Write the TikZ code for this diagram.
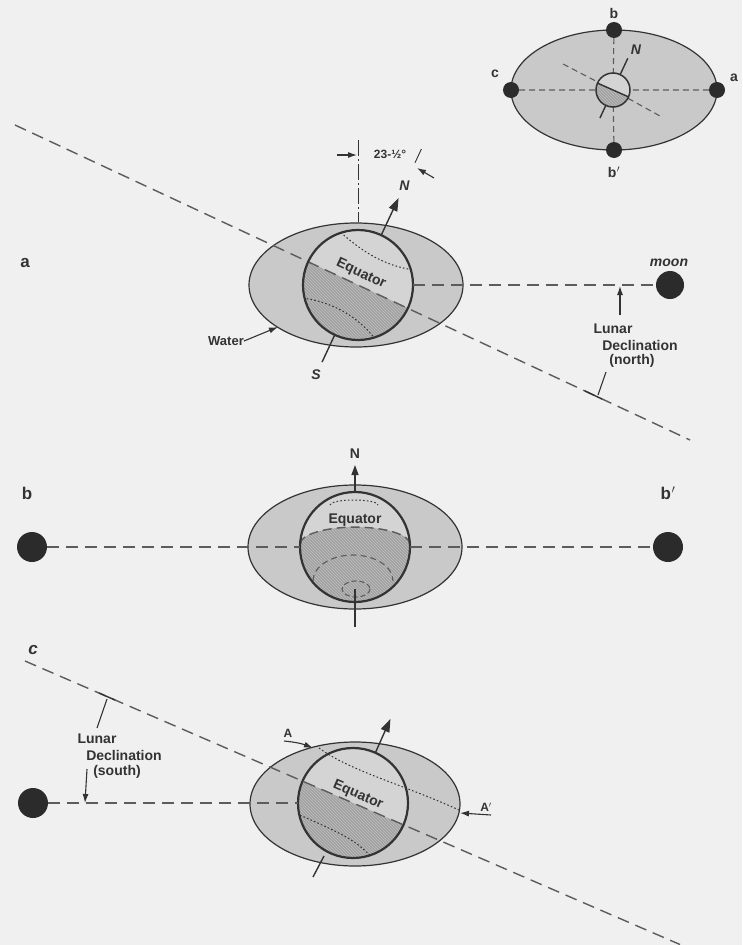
\documentclass[tikz,border=0pt]{standalone}
\usepackage{fontspec}
\setmainfont{Liberation Sans}
\usetikzlibrary{arrows.meta,patterns,calc}

\definecolor{bg}{gray}{0.94}
\definecolor{waterfill}{gray}{0.79}
\definecolor{landfill}{gray}{0.83}
\definecolor{southfill}{gray}{0.63}
\definecolor{outline}{gray}{0.2}
\definecolor{dashcol}{gray}{0.36}
\definecolor{moon}{gray}{0.17}

\newcommand\fsz[1]{\fontsize{#1}{#1}\selectfont}

\tikzset{
  lab/.style={font=\fsz{14}\bfseries, text=outline, inner sep=0pt},
  labit/.style={font=\fsz{14}\bfseries\itshape, text=outline, inner sep=0pt},
  tag/.style={font=\fsz{17}\bfseries, text=outline, inner sep=0pt},
  dsh/.style={draw=dashcol, line width=1.4pt, dash pattern=on 12pt off 7pt},
  water/.style={fill=waterfill, draw=outline, line width=1.2pt},
  globe/.style={circle, fill=landfill, minimum size=110pt, inner sep=0pt},
  rim/.style={draw=outline, line width=2.2pt},
  south/.style={fill=southfill, postaction={pattern=north west lines, pattern color=black!25}},
  dotline/.style={draw=outline, line width=1pt, dash pattern=on 1.6pt off 2.2pt},
  moonball/.style={circle, fill=moon, minimum size=28pt, inner sep=0pt},
  axis/.style={draw=outline, line width=1.4pt},
  bigtip/.style={-{Triangle[length=13pt,width=9pt]}},
  ptr/.style={draw=outline, line width=1.1pt, -{Latex[length=9pt,width=6pt]}},
}

\begin{document}
\begin{tikzpicture}[x=1pt,y=-1pt]
\fill[bg] (0,0) rectangle (742,945);
\useasboundingbox (0,0) rectangle (742,945);

%================ small overview: moon positions a, b, c, b'
\filldraw[water] (614,90) ellipse [x radius=103, y radius=60];
\node[globe, minimum size=34pt] (sE) at (613,90) {};
\node[moonball, minimum size=16pt] (dB)  at (614,30)  {};
\node[moonball, minimum size=16pt] (dBp) at (614,150) {};
\node[moonball, minimum size=16pt] (dA)  at (717,90)  {};
\node[moonball, minimum size=16pt] (dC)  at (511,90)  {};
\coordinate (sT1) at (563,64);
\coordinate (sT2) at (660,116);
\draw[dsh, line width=1.1pt, dash pattern=on 6pt off 4pt]
  (dB) -- (sE) (dBp) -- (sE) (dC) -- (sE) (dA) -- (sE) (sT1) -- (sE) (sE) -- (sT2);
\path[south] (sE.center) ++(24:17) arc[start angle=24, end angle=204, radius=17] -- cycle;
\draw[axis] (sE.center) ++(24:17) -- ++(204:34);
\draw[rim, line width=1.5pt] (sE.center) circle[radius=17];
\draw[axis] (sE.center) ++(-65:17) -- ++(-65:18);
\draw[axis] (sE.center) ++(115:17) -- ++(115:14);
\node[labit] (sN) at (636,50) {N};
\node[lab] (lb)  at (614,13)  {b};
\node[lab] (lbp) at (614,172) {b\kern0.5pt$'$};
\node[lab] (la)  at (734,78)  {a};
\node[lab] (lc)  at (495,74)  {c};

%================ a: moon at northern declination
\node[tag] (tagA) at (25,263) {a};
\filldraw[water] (356,285) ellipse [x radius=107, y radius=62];
\node[globe] (earthA) at (358,285) {};
\path[south] (earthA.center) ++(25:55) arc[start angle=25, end angle=205, radius=55] -- cycle;
\begin{scope}
  \clip (earthA.center) circle[radius=55];
  \draw[dotline] (338,230) .. controls (362,252) and (385,266) .. (414,270);
  \draw[dotline] (303,298) .. controls (330,302) and (356,314) .. (376,340);
\end{scope}
\coordinate (eqA1) at (15,125);
\coordinate (eqA2) at (690,440);
\draw[dsh] (eqA1) -- (eqA2);
\draw[rim] (earthA.center) circle[radius=55];
\node[lab, rotate=-25] (eqAtxt) at (361,274) {Equator};
% rotation axis
\path (earthA.center) ++(-65:55) coordinate (nA1) ++(-65:41) coordinate (nA2);
\draw[axis, bigtip] (nA1) -- (nA2);
\node[labit] (nA) at ($(earthA.center)+(-65:110)$) {N};
\path (earthA.center) ++(115:55) coordinate (sA1) ++(115:30) coordinate (sA2);
\draw[axis] (sA1) -- (sA2);
\node[labit] (sA) at ($(earthA.center)+(115:99)$) {S};
% 23-1/2 degree tilt dimension
\draw[outline, line width=0.9pt, dash pattern=on 16pt off 3pt on 2pt off 3pt] (358,140) -- (358,222);
\path (earthA.center) ++(-65:150) coordinate (tA1) ++(115:15) coordinate (tA2);
\draw[outline, line width=0.9pt] (tA1) -- (tA2);
\coordinate (dimL1) at (337,155);
\coordinate (dimL2) at (357,155);
\draw[ptr] (dimL1) -- (dimL2);
\coordinate (dimR1) at (434,178);
\coordinate (dimR2) at (417,168);
\draw[ptr] (dimR1) -- (dimR2);
\node[font=\fsz{12}\bfseries, text=outline, inner sep=0pt] (tiltA) at (390,154) {23-½°};
% water label
\node[font=\fsz{13}\bfseries, text=outline, inner sep=0pt] (waterA) at (226,341) {Water};
\coordinate (waterTip) at (278,327);
\draw[ptr] (waterA.east) -- (waterTip);
% moon and declination
\node[moonball] (moonA) at (670,285) {};
\node[labit] (moonAtxt) at (669,263) {moon};
\draw[dsh] (earthA) -- (moonA);
\coordinate (decN1) at (620,315);
\coordinate (decN2) at (620,286);
\draw[ptr] (decN1) -- (decN2);
\node[lab] (decN3) at (613,329) {Lunar};
\node[lab] (decN4) at (640,345) {Declination};
\node[lab] (decN5) at (632,361) {(north)};
\coordinate (decN6) at (606,372);
\coordinate (decN7) at (598,395);
\draw[outline, line width=1.1pt] (decN6) -- (decN7);
\coordinate (tkN1) at (585,391);
\coordinate (tkN2) at (602,399);
\draw[outline, line width=1.4pt] (tkN1) -- (tkN2);

%================ b: moon over the equator
\node[tag] (tagB) at (27,493) {b};
\node[tag] (tagBp) at (668,493) {b\kern0.5pt$'$};
\filldraw[water] (355,547) ellipse [x radius=107, y radius=62];
\node[globe] (earthB) at (355,547) {};
\path[south] (earthB.center) ++(-3:55) arc[start angle=-3, end angle=183, radius=55]
  arc[start angle=180, end angle=360, x radius=54.92, y radius=17] -- cycle;
\draw[dsh, dash pattern=on 9pt off 5pt] (earthB.center) ++(183:55) arc[start angle=180, end angle=360, x radius=54.92, y radius=17];
\draw[dotline] (330,505) arc[start angle=180, end angle=360, x radius=24, y radius=5];
\draw[dsh, line width=1.1pt, dash pattern=on 6pt off 4pt] (313,581) arc[start angle=180, end angle=360, x radius=40, y radius=26];
\draw[dsh, line width=1.1pt, dash pattern=on 5pt off 3pt] (356,589) ellipse [x radius=14, y radius=8];
\draw[rim] (earthB.center) circle[radius=55];
\node[lab] (eqBtxt) at (355,520) {Equator};
\coordinate (nB2) at (355,465);
\draw[axis, -{Triangle[length=10pt,width=7pt]}] (earthB.north) -- (nB2);
\node[lab] (nB) at (355,454) {N};
\coordinate (sB1) at (355,589);
\coordinate (sB2) at (355,627);
\draw[axis] (sB1) -- (sB2);
\node[moonball, minimum size=30pt] (moonBl) at (32,547) {};
\node[moonball, minimum size=30pt] (moonBr) at (668,547) {};
\draw[dsh] (moonBl) -- (earthB);
\draw[dsh] (earthB) -- (moonBr);

%================ c: moon at southern declination
\node[font=\fsz{17}\bfseries\itshape, text=outline, inner sep=0pt] (tagC) at (33,650) {c};
\filldraw[water] (355,804) ellipse [x radius=105, y radius=62];
\node[globe] (earthC) at (353,803) {};
\path[south] (earthC.center) ++(23.4:55) arc[start angle=23.4, end angle=203.4, radius=55] -- cycle;
\draw[dotline] (319,748) .. controls (350,771) and (402,784) .. (459,810);
\begin{scope}
  \clip (earthC.center) circle[radius=55];
  \draw[dotline] (300,815) .. controls (328,828) and (356,838) .. (372,858);
\end{scope}
\coordinate (eqC1) at (25,661);
\coordinate (eqC2) at (680,944.5);
\draw[dsh] (eqC1) -- (eqC2);
\draw[rim] (earthC.center) circle[radius=55];
\node[lab, rotate=-23.4] (eqCtxt) at (358,795) {Equator};
\path (earthC.center) ++(-66:55) coordinate (nC1) ++(-66:37) coordinate (nC2);
\draw[axis, bigtip] (nC1) -- (nC2);
\coordinate (sC1) at (324,856);
\coordinate (sC2) at (313,877);
\draw[axis] (sC1) -- (sC2);
% high-water points A and A'
\node[lab, font=\fsz{12}\bfseries] (ptA) at (288,733) {A};
\coordinate (ptA1) at (284,741);
\coordinate (ptA2) at (313,748);
\draw[ptr] (ptA1) to[bend left=8] (ptA2);
\node[lab, font=\fsz{12}\bfseries] (ptAp) at (486,807) {A$'$};
\coordinate (ptAp1) at (491,815);
\coordinate (ptAp2) at (460,813);
\draw[ptr] (ptAp1) -- (ptAp2);
% moon and declination
\node[moonball, minimum size=30pt] (moonC) at (33,803) {};
\draw[dsh] (moonC) -- (earthC);
\node[lab] (decS3) at (97,739) {Lunar};
\node[lab] (decS4) at (124,755) {Declination};
\node[lab] (decS5) at (117,772) {(south)};
\coordinate (decS6) at (97,728);
\coordinate (decS7) at (107,699);
\draw[outline, line width=1.1pt] (decS6) -- (decS7);
\coordinate (tkS1) at (99,693);
\coordinate (tkS2) at (115,700);
\draw[outline, line width=1.4pt] (tkS1) -- (tkS2);
\coordinate (decS1) at (87,769);
\coordinate (decS2) at (85,803);
\draw[ptr] (decS1) -- (decS2);
\end{tikzpicture}
\end{document}
